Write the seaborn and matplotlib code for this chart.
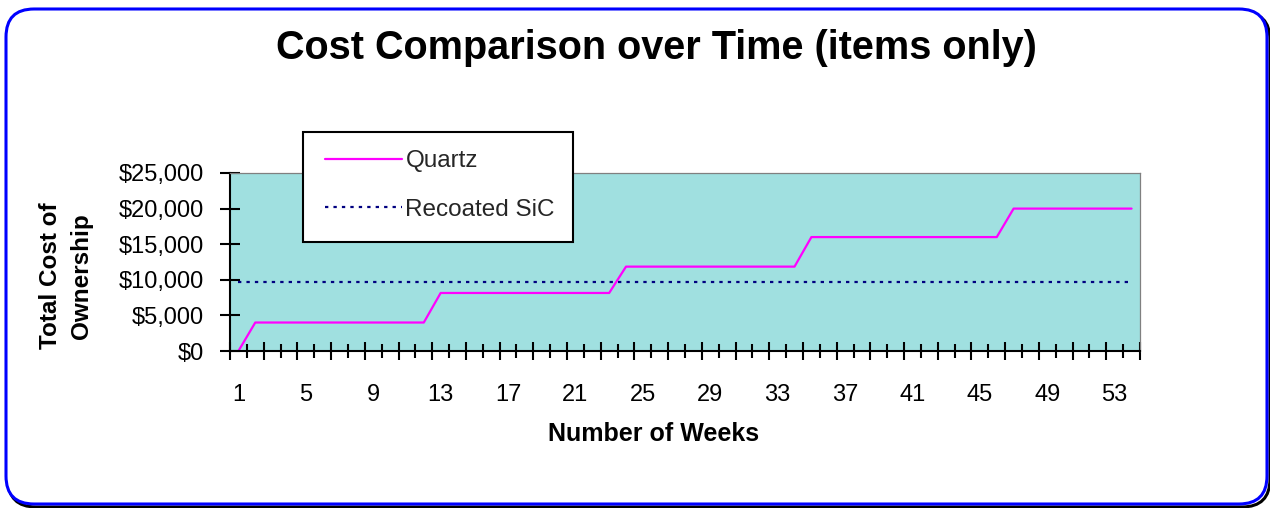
import numpy as np
import pandas as pd
import matplotlib
matplotlib.use("Agg")
import matplotlib.pyplot as plt
import seaborn as sns
from matplotlib.patches import FancyBboxPatch, Rectangle
from matplotlib.transforms import IdentityTransform

# ---------------- data ----------------
weeks = list(range(1, 55))
quartz = [0,
          4000, 4000, 4000, 4000, 4000, 4000, 4000, 4000, 4000, 4000, 4000,
          8150, 8150, 8150, 8150, 8150, 8150, 8150, 8150, 8150, 8150, 8150,
          11850, 11850, 11850, 11850, 11850, 11850, 11850, 11850, 11850, 11850, 11850,
          16000, 16000, 16000, 16000, 16000, 16000, 16000, 16000, 16000, 16000, 16000, 16000,
          20000, 20000, 20000, 20000, 20000, 20000, 20000, 20000]
recoated = [9750, 9750, 9750, 9750, 9750, 9750, 9750, 9750, 9750, 9750,
            9750, 9750, 9750, 9750, 9750, 9750, 9750, 9750, 9750, 9750,
            9750, 9750, 9750, 9750, 9750, 9750, 9750, 9750, 9750, 9750,
            9750, 9750, 9750, 9750, 9750, 9750, 9750, 9750, 9750, 9750,
            9750, 9750, 9750, 9750, 9750, 9750, 9750, 9750, 9750, 9750,
            9750, 9750, 9750, 9750]
series_names = ["Quartz", "Recoated SiC"]
y_ticks = [0, 5000, 10000, 15000, 20000, 25000]
y_tick_labels = ["$0", "$5,000", "$10,000", "$15,000", "$20,000", "$25,000"]
x_label_weeks = [1, 5, 9, 13, 17, 21, 25, 29, 33, 37, 41, 45, 49, 53]

df = pd.DataFrame({
    "Week": weeks + weeks,
    "Cost": quartz + recoated,
    "Series": [series_names[0]] * len(weeks) + [series_names[1]] * len(weeks),
})

# ---------------- style ----------------
sns.set_theme(style="white")
plt.rcParams["font.family"] = ["Liberation Sans", "DejaVu Sans"]

W, H = 1270, 508
fig = plt.figure(figsize=(W / 100, H / 100), dpi=100)
fig.patch.set_facecolor("white")

# rounded outer border with shadow
shadow = FancyBboxPatch((8, 1), 1262, 495, boxstyle="round,pad=0,rounding_size=28",
                        transform=IdentityTransform(), facecolor="none",
                        edgecolor="black", linewidth=2.2, zorder=0)
border = FancyBboxPatch((6, 4), 1261, 495, boxstyle="round,pad=0,rounding_size=28",
                        transform=IdentityTransform(), facecolor="white",
                        edgecolor="#0000FF", linewidth=2.2, zorder=0.5)
fig.add_artist(shadow)
fig.add_artist(border)

ax = fig.add_axes([230 / W, 1 - 351 / H, 910 / W, 178 / H])
ax.set_zorder(2)
ax.set_facecolor("#A0E0E0")

sns.lineplot(data=df, x="Week", y="Cost", hue="Series", style="Series",
             palette={"Quartz": "#FF00FF", "Recoated SiC": "#000080"},
             dashes={"Quartz": "", "Recoated SiC": (1.5, 2.3)},
             linewidth=1.6, estimator=None, ax=ax)

handles, labels = ax.get_legend_handles_labels()
if ax.get_legend() is not None:
    ax.get_legend().remove()

ax.set_xlim(0.5, len(weeks) + 0.5)
ax.set_ylim(0, 25000)
ax.set_xlabel("")
ax.set_ylabel("")
ax.grid(False)

# y axis
ax.set_yticks(y_ticks)
ax.set_yticklabels(y_tick_labels)
ax.tick_params(axis="y", direction="inout", length=14, width=1.5, color="black",
               labelsize=17, pad=12, left=True, labelcolor="black")

# x axis: tick marks on category boundaries, labels on categories
bounds = np.arange(0.5, len(weeks) + 1, 1.0)
ax.set_xticks(bounds[::2])
ax.set_xticks(bounds[1::2], minor=True)
ax.set_xticklabels([])
ax.tick_params(axis="x", which="major", direction="inout", length=13, width=1.5,
               color="black", bottom=True)
ax.tick_params(axis="x", which="minor", direction="inout", length=10.5, width=1.5,
               color="black", bottom=True)

sec = ax.secondary_xaxis("bottom")
sec.set_xticks(x_label_weeks)
sec.set_xticklabels([str(w) for w in x_label_weeks])
sec.tick_params(axis="x", length=0, labelsize=17, pad=24, labelcolor="black")
sec.spines["bottom"].set_visible(False)

for s in ["left", "bottom"]:
    ax.spines[s].set_color("black")
    ax.spines[s].set_linewidth(1.5)
for s in ["top", "right"]:
    ax.spines[s].set_color("#808080")
    ax.spines[s].set_linewidth(0.9)

# legend (box drawn separately to match its padding)
legbox = Rectangle((303, H - 242), 270, 110, transform=IdentityTransform(),
                   facecolor="white", edgecolor="black", linewidth=1.5, zorder=4)
fig.add_artist(legbox)
leg = fig.legend(handles, labels, loc="upper left",
                 bbox_to_anchor=(325 / W, 1 - 150 / H), frameon=False,
                 fontsize=17.5, handlelength=3.15, handletextpad=0.16,
                 labelspacing=1.1, borderpad=0, borderaxespad=0)
leg.set_zorder(5)

# texts
fig.text(656 / W, 1 - 48 / H, "Cost Comparison over Time (items only)",
         ha="center", va="center", fontsize=28.5, fontweight="bold", color="black")
fig.text(654 / W, 1 - 434 / H, "Number of Weeks", ha="center", va="center",
         fontsize=18, fontweight="bold", color="black")
fig.text(66 / W, 1 - 276 / H, "Total Cost of\nOwnership", ha="center", va="center",
         rotation=90, multialignment="center", linespacing=1.45,
         fontsize=17.5, fontweight="bold", color="black")

fig.savefig("out.png", dpi=100, facecolor="white")
